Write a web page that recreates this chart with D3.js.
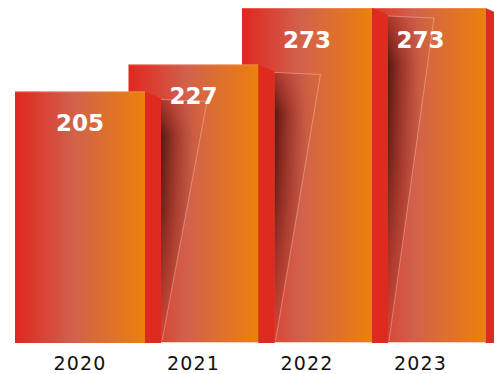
<!DOCTYPE html>
<html>
<head>
<meta charset="utf-8">
<script src="https://cdn.jsdelivr.net/npm/d3@7"></script>
<style>
html,body{margin:0;padding:0;background:#fff;}
svg{display:block;}
</style>
</head>
<body>
<div id="chart"></div>
<script>
const years = ["2020", "2021", "2022", "2023"];
const values = [205, 227, 273, 273];

const W = 494, H = 374;
const bottom = 343;
const frontW = 130, sideW = 16, sideDrop = 7;

const svg = d3.select("#chart").append("svg").attr("width", W).attr("height", H);
const defs = svg.append("defs");

const fg = defs.append("linearGradient").attr("id", "front").attr("x1", 0).attr("x2", 1).attr("y1", 0).attr("y2", 0);
fg.append("stop").attr("offset", 0).attr("stop-color", "#e0271f");
fg.append("stop").attr("offset", 0.45).attr("stop-color", "#d1614c");
fg.append("stop").attr("offset", 1).attr("stop-color", "#ec800c");

const sg = defs.append("linearGradient").attr("id", "shade").attr("x1", 0).attr("x2", 1).attr("y1", 0).attr("y2", 0);
sg.append("stop").attr("offset", 0).attr("stop-color", "#4a120e").attr("stop-opacity", 0.9);
sg.append("stop").attr("offset", 0.3).attr("stop-color", "#6a1d16").attr("stop-opacity", 0.55);
sg.append("stop").attr("offset", 0.7).attr("stop-color", "#8a2a1e").attr("stop-opacity", 0.12);
sg.append("stop").attr("offset", 1).attr("stop-color", "#8a2a1e").attr("stop-opacity", 0);

const mg = defs.append("linearGradient").attr("id", "maskGrad").attr("x1", 0).attr("x2", 0).attr("y1", 0).attr("y2", 1);
mg.append("stop").attr("offset", 0).attr("stop-color", "#fff").attr("stop-opacity", 0.35);
mg.append("stop").attr("offset", 0.15).attr("stop-color", "#fff").attr("stop-opacity", 1);
mg.append("stop").attr("offset", 0.45).attr("stop-color", "#fff").attr("stop-opacity", 0.8);
mg.append("stop").attr("offset", 1).attr("stop-color", "#fff").attr("stop-opacity", 0.05);

const x = d3.scaleBand().domain(years).range([15, 469]).paddingInner(0).paddingOuter(0);
const y = d3.scaleLinear().domain([0, 273]).range([bottom, 8]);

const data = years.map((yr, i) => ({ year: yr, value: values[i], i }));

// draw right-to-left so left bars overlap right ones
const order = data.slice().reverse();
const barsLayer = svg.append("g");
const labelLayer = svg.append("g");

order.forEach(d => {
  const x0 = x(d.year);
  const x1 = x0 + frontW;
  const top = y(d.value);
  const g = barsLayer.append("g");

  g.append("rect").attr("x", x0).attr("y", top).attr("width", frontW).attr("height", bottom - top)
    .attr("fill", "url(#front)");
  g.append("line").attr("x1", x0).attr("x2", x1).attr("y1", top + 0.5).attr("y2", top + 0.5)
    .attr("stroke", "#f6b79c").attr("stroke-opacity", 0.35);

  if (d.i > 0) {
    const prevRight = x(years[d.i - 1]) + frontW + sideW;
    g.append("line").attr("x1", prevRight).attr("x2", x1).attr("y1", bottom - 0.5).attr("y2", bottom - 0.5)
      .attr("stroke", "#f7d2c0").attr("stroke-width", 1);
  }

  // side face
  g.append("path")
    .attr("d", `M${x1},${top} L${x1 + sideW},${top + sideDrop} L${x1 + sideW},${bottom} L${x1},${bottom} Z`)
    .attr("fill", "#df2a20");

  // shadow cast on the next bar
  if (d.i < years.length - 1) {
    const sx = x1 + sideW;
    const st = top + 8;
    const mid = "m" + d.i;
    const m = defs.append("mask").attr("id", mid).attr("maskUnits", "userSpaceOnUse")
      .attr("x", 0).attr("y", 0).attr("width", W).attr("height", H);
    m.append("rect").attr("x", sx).attr("y", st).attr("width", 60).attr("height", bottom - st)
      .attr("fill", "url(#maskGrad)");
    const poly = `M${sx},${st} L${sx + 46},${st + 2} L${sx + 1},${bottom - 2} L${sx},${bottom - 2} Z`;
    g.append("path").attr("d", poly).attr("fill", "url(#shade)").attr("mask", `url(#${mid})`);
    g.append("path")
      .attr("d", `M${sx},${st} L${sx + 46},${st + 2} L${sx + 1},${bottom - 2}`)
      .attr("fill", "none").attr("stroke", "#fbd3c2").attr("stroke-opacity", 0.5).attr("stroke-width", 0.8);
  }
});

// value labels on top of everything
labelLayer.selectAll("text").data(data).join("text")
  .attr("x", d => x(d.year) + frontW / 2)
  .attr("y", d => y(d.value) + 40)
  .attr("text-anchor", "middle")
  .attr("font-family", "'DejaVu Sans', sans-serif").attr("font-weight", "bold")
  .attr("font-size", 23).attr("fill", "#fff")
  .text(d => d.value);

// year labels
svg.append("g").selectAll("text").data(data).join("text")
  .attr("x", d => x(d.year) + frontW / 2)
  .attr("y", 370)
  .attr("text-anchor", "middle")
  .attr("font-family", "'DejaVu Sans', sans-serif")
  .attr("font-size", 19)
  .attr("letter-spacing", 1.2)
  .attr("fill", "#111")
  .text(d => d.year);
</script>
</body>
</html>
